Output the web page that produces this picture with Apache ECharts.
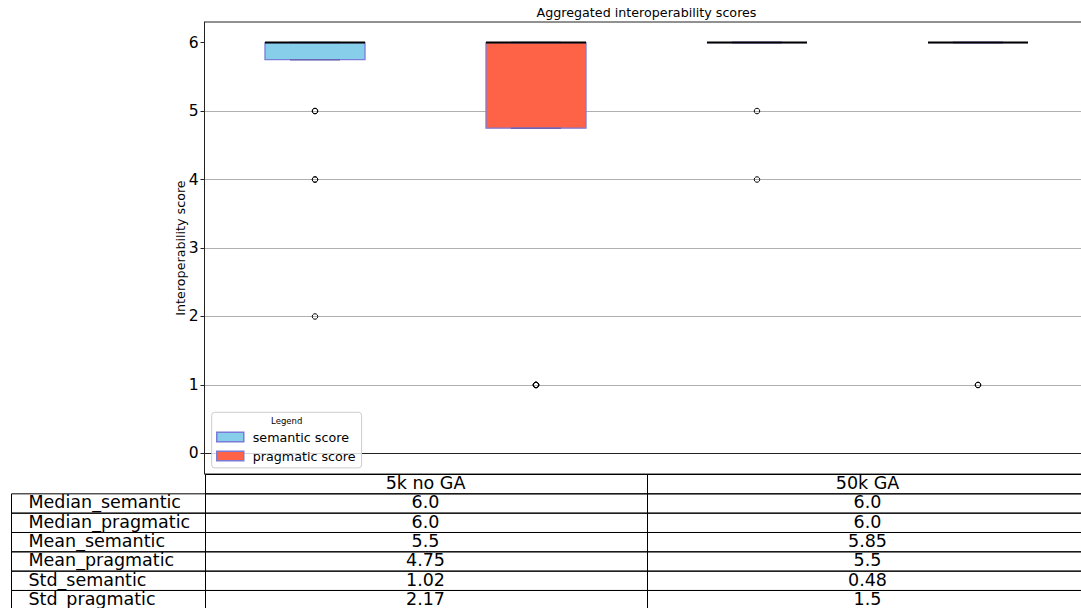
<!DOCTYPE html>
<html>
<head>
<meta charset="utf-8">
<script src="https://cdn.jsdelivr.net/npm/echarts@6/dist/echarts.min.js"></script>
<style>
  html, body { margin: 0; padding: 0; background: #fff; }
  #chart { width: 1081px; height: 608px; }
</style>
</head>
<body>
<div id="chart"></div>
<script>
// Group names (table columns) and box positions on the x axis
const groups = ['5k no GA', '50k GA'];
const semanticPos = [1, 3];
const pragmaticPos = [2, 4];

// Box statistics per group: whisker ends, quartiles, medians
const semanticLow = [5.75, 6];
const semanticQ1 = [5.75, 6];
const semanticQ3 = [6, 6];
const semanticHigh = [6, 6];
const pragmaticLow = [4.75, 6];
const pragmaticQ1 = [4.75, 6];
const pragmaticQ3 = [6, 6];
const pragmaticHigh = [6, 6];

// Outliers (fliers) per group
const semanticOutliers = [[5, 5, 4, 4, 2], [5, 4]];
const pragmaticOutliers = [[1, 1, 1, 1, 1], [1, 1]];

// Summary table values per group
const medianSemantic = [6.0, 6.0];
const medianPragmatic = [6.0, 6.0];
const meanSemantic = [5.5, 5.85];
const meanPragmatic = [4.75, 5.5];
const stdSemantic = [1.02, 0.48];
const stdPragmatic = [2.17, 1.5];
const rowLabels = ['Median_semantic', 'Median_pragmatic', 'Mean_semantic', 'Mean_pragmatic', 'Std_semantic', 'Std_pragmatic'];
const rowValues = [medianSemantic, medianPragmatic, meanSemantic, meanPragmatic, stdSemantic, stdPragmatic];

// Y axis tick values
const yTicks = [0, 1, 2, 3, 4, 5, 6];

const FONT = 'DejaVu Sans';
const SEM_COLOR = '#87ceeb';
const PRAG_COLOR = '#ff6347';
const EDGE = '#7b7bd8';
const CAP = '#6c64b2';
const BOX_WIDTH = 0.4525;

function fmt(v) {
  return Number.isInteger(v) ? v.toFixed(1) : String(v);
}

function boxData(pos, low, q1, med, q3, high) {
  return pos.map((p, i) => [p, low[i], q1[i], med[i], q3[i], high[i]]);
}

function outlierData(pos, outs) {
  const res = [];
  pos.forEach((p, i) => outs[i].forEach(v => res.push([p, v])));
  return res;
}

function renderBox(fill) {
  return function (params, api) {
    const x = api.value(0);
    const low = api.value(1), q1 = api.value(2), med = api.value(3), q3 = api.value(4), high = api.value(5);
    const half = api.size([BOX_WIDTH, 0])[0] / 2;
    const capHalf = half / 2;
    const pLow = api.coord([x, low]);
    const pQ1 = api.coord([x, q1]);
    const pMed = api.coord([x, med]);
    const pQ3 = api.coord([x, q3]);
    const pHigh = api.coord([x, high]);
    const cx = pQ1[0];
    return {
      type: 'group',
      children: [
        { type: 'rect', shape: { x: cx - half, y: pQ3[1], width: 2 * half, height: pQ1[1] - pQ3[1] },
          style: { fill: fill, stroke: EDGE, lineWidth: 1.3 } },
        { type: 'line', shape: { x1: cx, y1: pQ1[1], x2: cx, y2: pLow[1] }, style: { stroke: CAP, lineWidth: 1.3 } },
        { type: 'line', shape: { x1: cx, y1: pQ3[1], x2: cx, y2: pHigh[1] }, style: { stroke: CAP, lineWidth: 1.3 } },
        { type: 'line', shape: { x1: cx - capHalf, y1: pLow[1], x2: cx + capHalf, y2: pLow[1] }, style: { stroke: CAP, lineWidth: 1.5 } },
        { type: 'line', shape: { x1: cx - capHalf, y1: pHigh[1], x2: cx + capHalf, y2: pHigh[1] }, style: { stroke: CAP, lineWidth: 1.5 } },
        { type: 'line', shape: { x1: cx - half, y1: pMed[1], x2: cx + half, y2: pMed[1] }, style: { stroke: '#000', lineWidth: 2 } }
      ]
    };
  };
}

const chart = echarts.init(document.getElementById('chart'), null, { renderer: 'svg' });

chart.setOption({
  animation: false,
  backgroundColor: '#fff',
  grid: { left: 204.5, top: 22, width: 884, height: 452, show: true, borderColor: '#222', borderWidth: 1,
    outerBoundsMode: 'none', containLabel: false },
  xAxis: {
    type: 'value', min: 0.5, max: 4.5,
    axisLine: { show: true, lineStyle: { color: '#222', width: 1 } },
    axisTick: { show: false }, axisLabel: { show: false }, splitLine: { show: false }
  },
  yAxis: {
    type: 'value', min: -0.3, max: 6.3, splitNumber: 6,
    name: 'Interoperability score', nameLocation: 'middle', nameGap: 18, nameMoveOverlap: false,
    nameTextStyle: { fontFamily: FONT, fontSize: 12.7, color: '#000' },
    axisLine: { show: true, lineStyle: { color: '#222', width: 1 } },
    axisTick: { show: true, customValues: yTicks, length: 4, lineStyle: { color: '#222' } },
    axisLabel: { customValues: yTicks, fontFamily: FONT, fontSize: 15.5, color: '#000', margin: 6 },
    splitLine: { show: true, showMinLine: false, showMaxLine: false, lineStyle: { color: '#b0b0b0', width: 1 } }
  },
  legend: {
    data: [
      { name: 'semantic score', icon: 'rect', itemStyle: { color: SEM_COLOR, borderColor: EDGE, borderWidth: 1.5 } },
      { name: 'pragmatic score', icon: 'rect', itemStyle: { color: PRAG_COLOR, borderColor: EDGE, borderWidth: 1.5 } }
    ],
    orient: 'vertical', left: 211.7, top: 412.3,
    itemWidth: 27, itemHeight: 9.5, itemGap: 6,
    padding: [18.3, 6, 5.3, 4.3],
    backgroundColor: 'rgba(255,255,255,0.8)', borderColor: '#cccccc', borderWidth: 1, borderRadius: 3,
    selectedMode: false,
    textStyle: { fontFamily: FONT, fontSize: 12.7, color: '#000', padding: [0, 0, 0, 4] }
  },
  series: [
    { name: 'semantic score', type: 'custom', renderItem: renderBox(SEM_COLOR),
      itemStyle: { color: SEM_COLOR }, encode: { x: 0, y: [1, 2, 3, 4, 5] },
      data: boxData(semanticPos, semanticLow, semanticQ1, medianSemantic, semanticQ3, semanticHigh), z: 3 },
    { name: 'pragmatic score', type: 'custom', renderItem: renderBox(PRAG_COLOR),
      itemStyle: { color: PRAG_COLOR }, encode: { x: 0, y: [1, 2, 3, 4, 5] },
      data: boxData(pragmaticPos, pragmaticLow, pragmaticQ1, medianPragmatic, pragmaticQ3, pragmaticHigh), z: 3 },
    { name: 'semantic outliers', type: 'scatter', symbol: 'circle', symbolSize: 5.5, z: 4,
      itemStyle: { color: 'rgba(255,255,255,0)', borderColor: '#000', borderWidth: 1, opacity: 1 },
      data: outlierData(semanticPos, semanticOutliers) },
    { name: 'pragmatic outliers', type: 'scatter', symbol: 'circle', symbolSize: 5.5, z: 4,
      itemStyle: { color: 'rgba(255,255,255,0)', borderColor: '#000', borderWidth: 1, opacity: 1 },
      data: outlierData(pragmaticPos, pragmaticOutliers) }
  ]
});

// Title, legend heading and the summary table under the plot
const px = v => chart.convertToPixel({ xAxisIndex: 0 }, v);
const py = v => chart.convertToPixel({ yAxisIndex: 0 }, v);
const colEdges = [px(0.5), px(2.5), px(4.5)];
const tableTop = Math.round(py(-0.3)) + 0.5;
const rowH = 19.33;
const labelLeft = 10.5;
const labelTextX = 28.5;
const TABLE_FONT = 17.5;
const g = [];

g.push({ type: 'text', x: (colEdges[0] + colEdges[2]) / 2, y: 12, z: 20,
  style: { text: 'Aggregated interoperability scores', fontFamily: FONT, fontSize: 12.7, fill: '#000', align: 'center', verticalAlign: 'middle' } });
g.push({ type: 'text', x: 286.7, y: 420.5, z: 20,
  style: { text: 'Legend', fontFamily: FONT, fontSize: 8.5, fill: '#000', align: 'center', verticalAlign: 'middle' } });

function cell(x1, x2, y, text, align) {
  const left = Math.round(x1) + 0.5, right = Math.round(x2) + 0.5;
  g.push({ type: 'rect', z: 10, shape: { x: left, y: y, width: right - left, height: rowH },
    style: { fill: 'none', stroke: '#000', lineWidth: 1 } });
  g.push({ type: 'text', z: 11,
    x: align === 'left' ? labelTextX : (x1 + x2) / 2, y: y + rowH / 2 - 1.3,
    style: { text: text, fontFamily: FONT, fontSize: TABLE_FONT, fill: '#000', align: align, verticalAlign: 'middle' } });
}

groups.forEach((name, j) => cell(colEdges[j], colEdges[j + 1], tableTop, name, 'center'));
rowLabels.forEach((label, i) => {
  const y = tableTop + rowH * (i + 1);
  cell(labelLeft, colEdges[0], y, label, 'left');
  groups.forEach((name, j) => cell(colEdges[j], colEdges[j + 1], y, fmt(rowValues[i][j]), 'center'));
});

chart.setOption({ graphic: g });
</script>
</body>
</html>
